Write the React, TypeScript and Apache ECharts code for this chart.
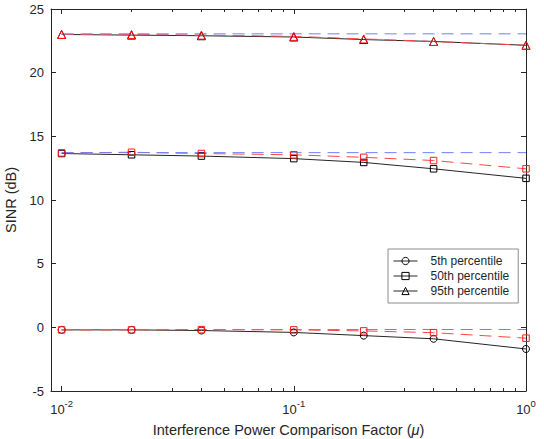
import React, { useEffect, useRef } from 'react';
import * as echarts from 'echarts';

// ---- data ----
const xValues = [0.01, 0.02, 0.04, 0.1, 0.2, 0.4, 1];

const p5Black = [-0.2, -0.2, -0.25, -0.4, -0.65, -0.9, -1.7];
const p5Red = [-0.2, -0.2, -0.18, -0.2, -0.28, -0.42, -0.85];
const p5Blue = [-0.17, -0.17, -0.17, -0.17, -0.17, -0.17, -0.17];

const p50Black = [13.65, 13.55, 13.45, 13.25, 12.95, 12.45, 11.7];
const p50Red = [13.7, 13.75, 13.65, 13.55, 13.35, 13.1, 12.45];
const p50Blue = [13.72, 13.72, 13.72, 13.72, 13.72, 13.72, 13.72];

const p95Black = [23.0, 22.95, 22.9, 22.8, 22.6, 22.45, 22.15];
const p95Red = [23.0, 23.0, 22.95, 22.85, 22.65, 22.45, 22.15];
const p95Blue = [23.05, 23.05, 23.05, 23.05, 23.05, 23.05, 23.05];

const legendNames = ['5th percentile', '50th percentile', '95th percentile'];

const xMin = 0.009;
const xMax = 1;
const xMajorTicks = [0.01, 0.1, 1];
const xMinorTicks = [
  0.02, 0.03, 0.04, 0.05, 0.06, 0.07, 0.08, 0.09,
  0.2, 0.3, 0.4, 0.5, 0.6, 0.7, 0.8, 0.9,
];
const yMin = -5;
const yMax = 25;
const yInterval = 5;

const xTitle = 'Interference Power Comparison Factor ({i|μ})';
const yTitle = 'SINR (dB)';

// ---- styles ----
const FONT = '"Liberation Sans", Arial, Helvetica, sans-serif';
const TEXT = '#262626';
const AXIS = '#262626';
const BLACK = '#262626';
const RED_LINE = '#ff4646';
const RED_MARK = '#ff1a1a';
const BLUE = '#6f7fff';
const DASH = [12, 7];

const pts = (ys: number[]) => xValues.map((x, i) => [x, ys[i]]);
const hollow = (c: string) => ({ color: 'rgba(255,255,255,0)', borderColor: c, borderWidth: 1 });

export default function App() {
  const ref = useRef<HTMLDivElement>(null);

  useEffect(() => {
    document.body.style.margin = '0';
    if (!ref.current) return;
    const chart = echarts.init(ref.current, undefined, { renderer: 'svg' });

    const lMin = Math.log10(xMin);
    const lMax = Math.log10(xMax);
    const majorLog = xMajorTicks.map((v) => Math.log10(v));
    const minorLog = xMinorTicks.map((v) => Math.log10(v));
    const tickLine = { color: AXIS, width: 1 };

    const decoAxis = (position: 'top' | 'bottom', values: number[], len: number, labels: boolean, line: boolean) => ({
      type: 'value',
      min: lMin,
      max: lMax,
      position,
      axisLine: { show: line, onZero: false, lineStyle: tickLine },
      axisTick: { show: true, inside: true, length: len, customValues: values, lineStyle: tickLine },
      axisLabel: labels
        ? {
            show: true,
            customValues: values,
            margin: 7,
            formatter: (v: number) => `{b|10}{s|${Math.round(v)}}`,
            rich: {
              b: { fontSize: 13, fontFamily: FONT, color: TEXT, lineHeight: 22, verticalAlign: 'middle' },
              s: { fontSize: 9.5, fontFamily: FONT, color: TEXT, lineHeight: 9, verticalAlign: 'top' },
            },
          }
        : { show: false },
      splitLine: { show: false },
      minorTick: { show: false },
      silent: true,
    });

    const line = (name: string, ys: number[], symbol: string, size: number, lineColor: string, markColor: string, dashed: boolean) => ({
      name,
      type: 'line',
      xAxisIndex: 0,
      yAxisIndex: 0,
      data: pts(ys),
      symbol,
      symbolSize: size,
      showSymbol: symbol !== 'none',
      lineStyle: { color: lineColor, width: 1, type: dashed ? DASH : 'solid' },
      itemStyle: hollow(markColor),
      silent: true,
    });

    chart.setOption({
      animation: false,
      backgroundColor: '#fff',
      grid: { left: 51, right: 18, top: 9, bottom: 48, containLabel: false, outerBoundsMode: 'none' },
      legend: {
        data: legendNames,
        orient: 'vertical',
        left: 388,
        top: 249,
        padding: [5, 9, 5, 5],
        itemWidth: 24,
        itemHeight: 9,
        itemGap: 1,
        backgroundColor: '#fff',
        borderColor: '#8c8c8c',
        borderWidth: 1,
        borderRadius: 0,
        selectedMode: false,
        lineStyle: { width: 1, color: BLACK },
        itemStyle: { color: 'rgba(255,255,255,0)', borderColor: '#000', borderWidth: 1 },
        textStyle: { fontSize: 12, fontFamily: FONT, color: TEXT, lineHeight: 14, padding: [0, 0, 0, 8] },
      },
      xAxis: [
        {
          type: 'log',
          logBase: 10,
          min: xMin,
          max: xMax,
          position: 'bottom',
          axisLine: { show: true, onZero: false, lineStyle: tickLine },
          axisTick: { show: false },
          axisLabel: { show: false },
          splitLine: { show: false },
          minorTick: { show: false },
          name: xTitle,
          nameLocation: 'middle',
          nameGap: 31,
          nameTextStyle: {
            fontSize: 14.5,
            fontFamily: FONT,
            color: TEXT,
            rich: { i: { fontSize: 14.5, fontFamily: FONT, color: TEXT, fontStyle: 'italic' } },
          },
        },
        decoAxis('bottom', majorLog, 5, true, false),
        decoAxis('bottom', minorLog, 3, false, false),
        decoAxis('top', majorLog, 5, false, true),
        decoAxis('top', minorLog, 3, false, false),
      ],
      yAxis: [
        {
          type: 'value',
          min: yMin,
          max: yMax,
          interval: yInterval,
          position: 'left',
          axisLine: { show: true, onZero: false, lineStyle: tickLine },
          axisTick: { show: true, inside: true, length: 5, lineStyle: tickLine },
          axisLabel: { margin: 7, fontSize: 13, fontFamily: FONT, color: TEXT },
          splitLine: { show: false },
          name: yTitle,
          nameLocation: 'middle',
          nameGap: 24,
          nameTextStyle: { fontSize: 14.5, fontFamily: FONT, color: TEXT },
        },
        {
          type: 'value',
          min: yMin,
          max: yMax,
          interval: yInterval,
          position: 'right',
          axisLine: { show: true, onZero: false, lineStyle: tickLine },
          axisTick: { show: true, inside: true, length: 5, lineStyle: tickLine },
          axisLabel: { show: false },
          splitLine: { show: false },
        },
      ],
      series: [
        line(legendNames[0], p5Black, 'circle', 7, BLACK, '#000', false),
        line(legendNames[1], p50Black, 'rect', 6.5, BLACK, '#000', false),
        line(legendNames[2], p95Black, 'triangle', 8, BLACK, '#000', false),
        line('red-5', p5Red, 'rect', 6.5, RED_LINE, RED_MARK, true),
        line('red-50', p50Red, 'rect', 6.5, RED_LINE, RED_MARK, true),
        line('red-95', p95Red, 'triangle', 8, RED_LINE, RED_MARK, true),
        line('blue-5', p5Blue, 'none', 0, BLUE, BLUE, true),
        line('blue-50', p50Blue, 'none', 0, BLUE, BLUE, true),
        line('blue-95', p95Blue, 'none', 0, BLUE, BLUE, true),
      ],
    });

    return () => chart.dispose();
  }, []);

  return <div ref={ref} style={{ width: 544, height: 439 }} />;
}
